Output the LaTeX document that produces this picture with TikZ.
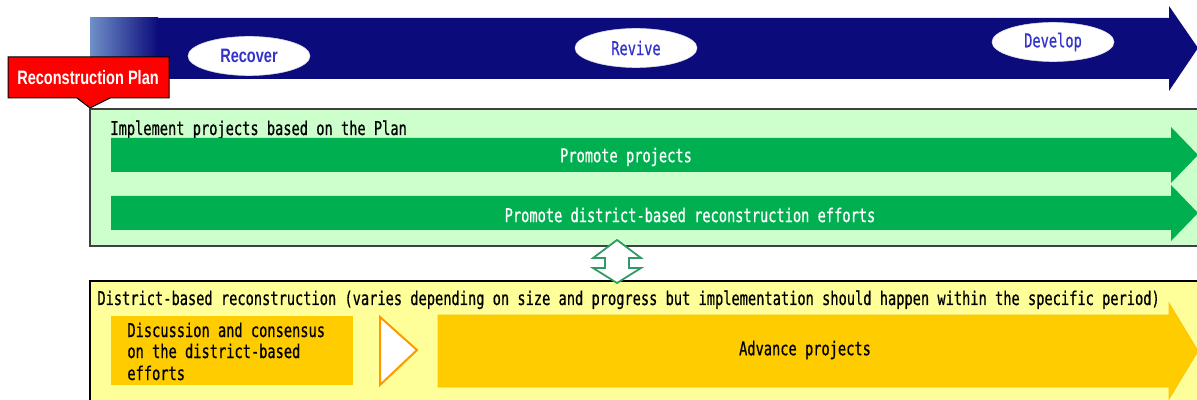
\documentclass[tikz,border=0pt]{standalone}
\usepackage{fontspec}
\usetikzlibrary{shapes.geometric}
\newfontfamily\gothic[FakeStretch=0.72,FakeBold=0.6]{DejaVu Sans Mono}
\newfontfamily\pgothic[FakeStretch=0.75]{Liberation Sans}
\definecolor{navyc}{HTML}{0B0B7B}
\definecolor{gradl}{HTML}{7090C8}
\definecolor{bluetxt}{HTML}{3333CC}
\definecolor{lgreen}{HTML}{CCFFCC}
\definecolor{agreen}{HTML}{00B050}
\definecolor{dgreen}{HTML}{339966}
\definecolor{lyellow}{HTML}{FFFF99}
\definecolor{gold}{HTML}{FFCC00}
\definecolor{orangeline}{HTML}{FF9900}
\definecolor{boxline}{HTML}{404040}
\tikzset{
  phase/.style={ellipse, fill=white, draw=white!85!navyc, line width=0.3pt, minimum width=61pt, minimum height=19.5pt, inner sep=0pt, text=bluetxt},
  gtext/.style={inner sep=0pt, font=\gothic\fontsize{9.5pt}{10.5pt}\selectfont},
  ptext/.style={inner sep=0pt, font=\pgothic\bfseries\fontsize{9.7pt}{11pt}\selectfont}
}
\begin{document}
\begin{tikzpicture}[x=0.5pt,y=-0.5pt]
\useasboundingbox (0,0) rectangle (1197,400);
\clip (0,0) rectangle (1197,400);

% time arrow
\fill[navyc] (90,18) -- (1169,18) -- (1169,6) -- (1198,48) -- (1169,91) -- (1169,79) -- (90,79) -- cycle;
\shade[left color=gradl, right color=navyc] (90,18) rectangle (158,79);
\node[phase, ptext, text=bluetxt] (recover) at (249,56) {Recover};
\node[phase, gtext, text=bluetxt] (revive) at (636,48) {Revive};
\node[phase, gtext, text=bluetxt] (develop) at (1053,42) {Develop};

% implement box
\filldraw[fill=lgreen, draw=boxline, line width=0.75pt] (90,109) rectangle (1215,246);
\node[gtext, anchor=base west] (impl) at (110,135) {Implement projects based on the Plan};
\fill[agreen] (111,138) -- (1171,138) -- (1171,127) -- (1198,155) -- (1171,183) -- (1171,172) -- (111,172) -- cycle;
\fill[agreen] (111,196) -- (1171,196) -- (1171,185) -- (1198,213) -- (1171,241) -- (1171,230) -- (111,230) -- cycle;
\node[gtext, text=white] (promote) at (626,157) {Promote projects};
\node[gtext, text=white] (district) at (690,215) {Promote district-based reconstruction efforts};

% district box
\filldraw[fill=lyellow, draw=black, line width=0.75pt] (90,281) rectangle (1215,420);
\node[gtext, anchor=base west] (dtitle) at (97,305) {District-based reconstruction (varies depending on size and progress but implementation should happen within the specific period)};
\fill[gold] (111,316) rectangle (353,385);
\node[gtext, anchor=base west] (d1) at (127,337) {Discussion and consensus};
\node[gtext, anchor=base west] (d2) at (127,358) {on the district-based};
\node[gtext, anchor=base west] (d3) at (127,380) {efforts};
\filldraw[fill=white, draw=orangeline, line width=1pt, line join=miter] (380,317) -- (417,350) -- (380,385) -- cycle;
\filldraw[fill=gold, draw=gold!90!orange, line width=0.4pt] (438,315) -- (1169,315) -- (1169,303) -- (1198,351) -- (1169,399) -- (1169,387) -- (438,387) -- cycle;
\node[gtext] (advance) at (805,350) {Advance projects};

% up-down arrow
\filldraw[fill=white, draw=dgreen, line width=0.9pt] (617,240) -- (641,258) -- (629,258) -- (629,268) -- (641,268) -- (617,283) -- (593,268) -- (605,268) -- (605,258) -- (593,258) -- cycle;

% callout
\filldraw[fill=red, draw=black, line width=0.5pt] (8,57) -- (169,57) -- (169,98) -- (110,98) -- (90,108) -- (77,98) -- (8,98) -- cycle;
\node[ptext, text=white] (plan) at (88,78) {Reconstruction Plan};
\end{tikzpicture}
\end{document}
